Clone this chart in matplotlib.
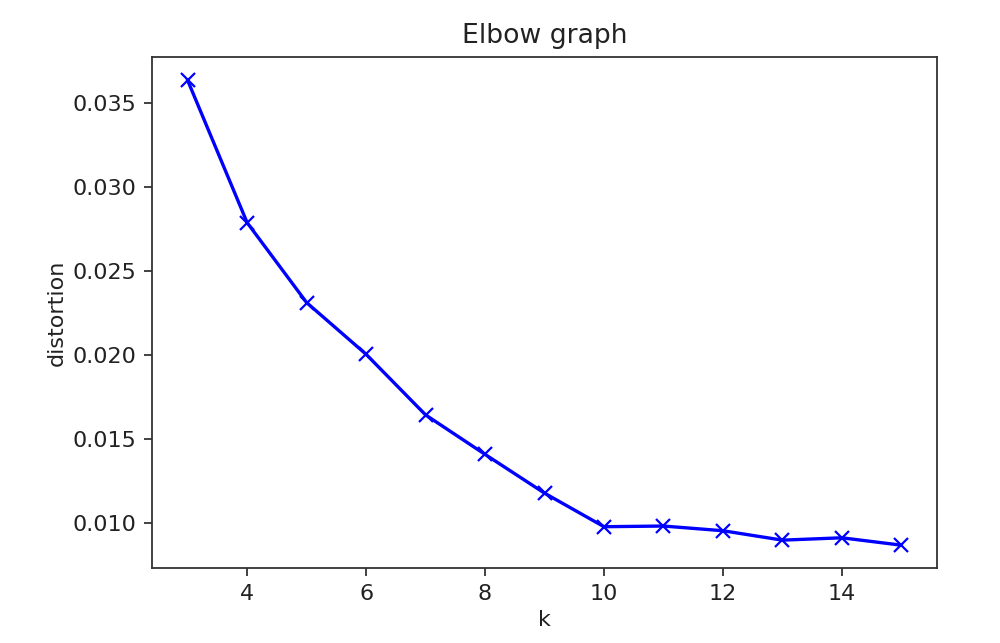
import matplotlib
matplotlib.use("Agg")
import matplotlib.pyplot as plt

k_values = [3, 4, 5, 6, 7, 8, 9, 10, 11, 12, 13, 14, 15]
distortion = [0.03637, 0.0279, 0.02314, 0.02006, 0.01645, 0.0141, 0.01179,
              0.00979, 0.00983, 0.00955, 0.00899, 0.00913, 0.00869]

plt.rcParams['font.family'] = ['DejaVu Sans']
plt.rcParams['font.size'] = 16

fig = plt.figure(figsize=(10, 6.43), dpi=100)
ax = fig.add_axes([0.152, 0.116, 0.785, 0.795])
ax.plot(k_values, distortion, 'bx-', linewidth=2.4, markersize=9.6, markeredgewidth=1.6)
ax.set_xlabel('k', color='#222222')
ax.set_ylabel('distortion', color='#222222')
ax.set_title('Elbow graph', fontsize=19.2, color='#222222', pad=10)
ax.set_yticks([0.010, 0.015, 0.020, 0.025, 0.030, 0.035])
ax.set_yticklabels(['0.010', '0.015', '0.020', '0.025', '0.030', '0.035'])
ax.set_xticks([4, 6, 8, 10, 12, 14])
for s in ax.spines.values():
    s.set_linewidth(1.3)
    s.set_color('#333333')
ax.tick_params(length=5.6, width=1.3, colors='#333333', labelcolor='#222222', pad=5.6)
fig.savefig('out.png', dpi=100)
